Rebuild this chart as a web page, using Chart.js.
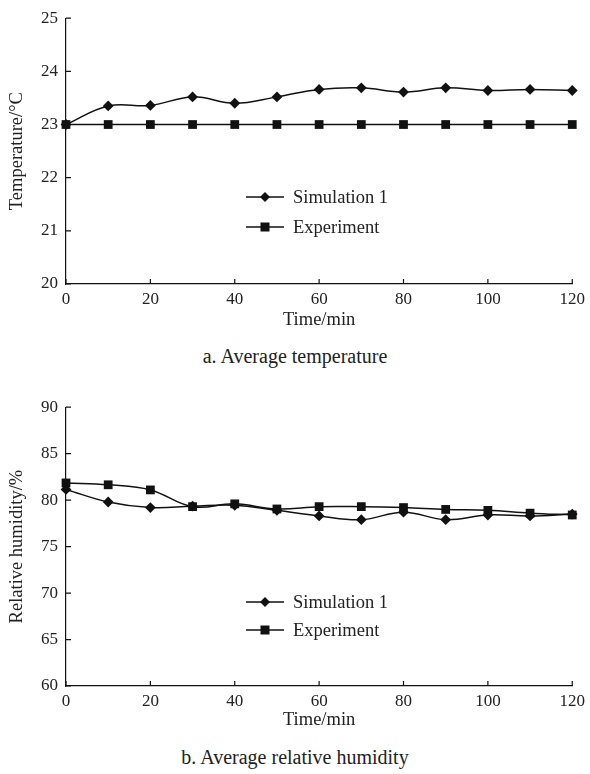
<!DOCTYPE html>
<html>
<head>
<meta charset="utf-8">
<script src="https://cdn.jsdelivr.net/npm/chart.js@4/dist/chart.umd.min.js"></script>
<style>
  html, body { margin: 0; padding: 0; background: #fff; }
  body { width: 590px; height: 774px; position: relative; overflow: hidden;
         font-family: 'Liberation Serif', 'Times New Roman', serif; color: #222; }
  .wrap { position: absolute; left: 0; width: 590px; }
  .caption { position: absolute; left: 0; width: 590px; text-align: center; font-size: 20px; line-height: 24px; }
  .legend { position: absolute; left: 246px; font-size: 18.5px; line-height: 22px; }
  .legend div { display: flex; align-items: center; height: 22px; }
  .legend svg { margin-right: 9px; }
</style>
</head>
<body>
<div class="wrap" style="top:0;height:331px"><canvas id="c1"></canvas></div>
<div class="caption" style="top:344px">a. Average temperature</div>
<div class="wrap" style="top:389px;height:342px"><canvas id="c2"></canvas></div>
<div class="caption" style="top:745px">b. Average relative humidity</div>

<div class="legend" style="top:186px">
  <div><svg width="38" height="12"><line x1="0" y1="6" x2="38" y2="6" stroke="#111" stroke-width="1.5"/><polygon points="19,1 24,6 19,11 14,6" fill="#111"/></svg>Simulation 1</div>
  <div style="margin-top:8px"><svg width="38" height="12"><line x1="0" y1="6" x2="38" y2="6" stroke="#111" stroke-width="1.5"/><rect x="14.5" y="1.5" width="9" height="9" fill="#111"/></svg>Experiment</div>
</div>
<div class="legend" style="top:591px">
  <div><svg width="38" height="12"><line x1="0" y1="6" x2="38" y2="6" stroke="#111" stroke-width="1.5"/><polygon points="19,1 24,6 19,11 14,6" fill="#111"/></svg>Simulation 1</div>
  <div style="margin-top:6px"><svg width="38" height="12"><line x1="0" y1="6" x2="38" y2="6" stroke="#111" stroke-width="1.5"/><rect x="14.5" y="1.5" width="9" height="9" fill="#111"/></svg>Experiment</div>
</div>

<script>
const times = [0, 10, 20, 30, 40, 50, 60, 70, 80, 90, 100, 110, 120];
const tempSim = [23.0, 23.35, 23.36, 23.52, 23.40, 23.52, 23.66, 23.69, 23.61, 23.69, 23.64, 23.66, 23.64];
const tempExp = [23.0, 23.0, 23.0, 23.0, 23.0, 23.0, 23.0, 23.0, 23.0, 23.0, 23.0, 23.0, 23.0];
const rhSim = [81.15, 79.8, 79.2, 79.35, 79.45, 78.9, 78.3, 77.9, 78.7, 77.9, 78.4, 78.3, 78.5];
const rhExp = [81.85, 81.65, 81.1, 79.3, 79.6, 79.05, 79.3, 79.3, 79.2, 79.0, 78.9, 78.6, 78.4];
const xTicks = { min: 0, max: 120, step: 20 };
const tempTicks = { min: 20, max: 25, step: 1 };
const rhTicks = { min: 60, max: 90, step: 5 };

const FONT = "'Liberation Serif', 'Times New Roman', serif";
const INK = '#111';
const TXT = '#222';

const inwardTicks = {
  id: 'inwardTicks',
  afterDraw(chart) {
    const { ctx, chartArea } = chart;
    const xs = chart.scales.x, ys = chart.scales.y;
    ctx.save();
    ctx.strokeStyle = INK;
    ctx.lineWidth = 1.2;
    ctx.beginPath();
    xs.ticks.forEach(t => {
      const px = xs.getPixelForValue(t.value);
      ctx.moveTo(px, chartArea.bottom);
      ctx.lineTo(px, chartArea.bottom - 5);
    });
    ys.ticks.forEach(t => {
      const py = ys.getPixelForValue(t.value);
      ctx.moveTo(chartArea.left, py);
      ctx.lineTo(chartArea.left + 5, py);
    });
    ctx.stroke();
    ctx.restore();
  }
};

function makeChart(id, sim, exp, yt, yTitle, xHeight) {
  const ds = (vals, label, style, r) => ({
    label,
    data: times.map((t, i) => ({ x: t, y: vals[i] })),
    borderColor: INK,
    backgroundColor: INK,
    borderWidth: 1.5,
    pointStyle: style,
    pointRadius: r,
    pointHoverRadius: r,
    pointBorderWidth: 0,
    tension: 0.4,
    clip: false
  });
  return new Chart(document.getElementById(id), {
    type: 'line',
    data: { datasets: [ds(exp, 'Experiment', 'rect', 6.2), ds(sim, 'Simulation 1', 'rectRot', 5.4)] },
    options: {
      responsive: true,
      maintainAspectRatio: false,
      animation: false,
      layout: { padding: { top: 18, right: 17, left: 0, bottom: 0 } },
      plugins: { legend: { display: false }, tooltip: { enabled: false } },
      scales: {
        x: {
          type: 'linear', min: xTicks.min, max: xTicks.max,
          grid: { display: false, drawTicks: false },
          border: { color: INK, width: 1.2 },
          ticks: { stepSize: xTicks.step, padding: 5, color: TXT, font: { family: FONT, size: 17 }, maxRotation: 0 },
          title: { display: true, text: 'Time/min', color: TXT, font: { family: FONT, size: 18.5 }, padding: 0 },
          afterFit(s) { s.height = xHeight; }
        },
        y: {
          type: 'linear', min: yt.min, max: yt.max,
          grid: { display: false, drawTicks: false },
          border: { color: INK, width: 1.2 },
          ticks: { stepSize: yt.step, padding: 8, color: TXT, font: { family: FONT, size: 17 } },
          title: { display: true, text: yTitle, color: TXT, font: { family: FONT, size: 18.5 }, padding: { top: 6, bottom: 0 } },
          afterFit(s) { s.width = 66; }
        }
      }
    },
    plugins: [inwardTicks]
  });
}

makeChart('c1', tempSim, tempExp, tempTicks, 'Temperature/°C', 47);
makeChart('c2', rhSim, rhExp, rhTicks, 'Relative humidity/%', 45);
</script>
</body>
</html>
